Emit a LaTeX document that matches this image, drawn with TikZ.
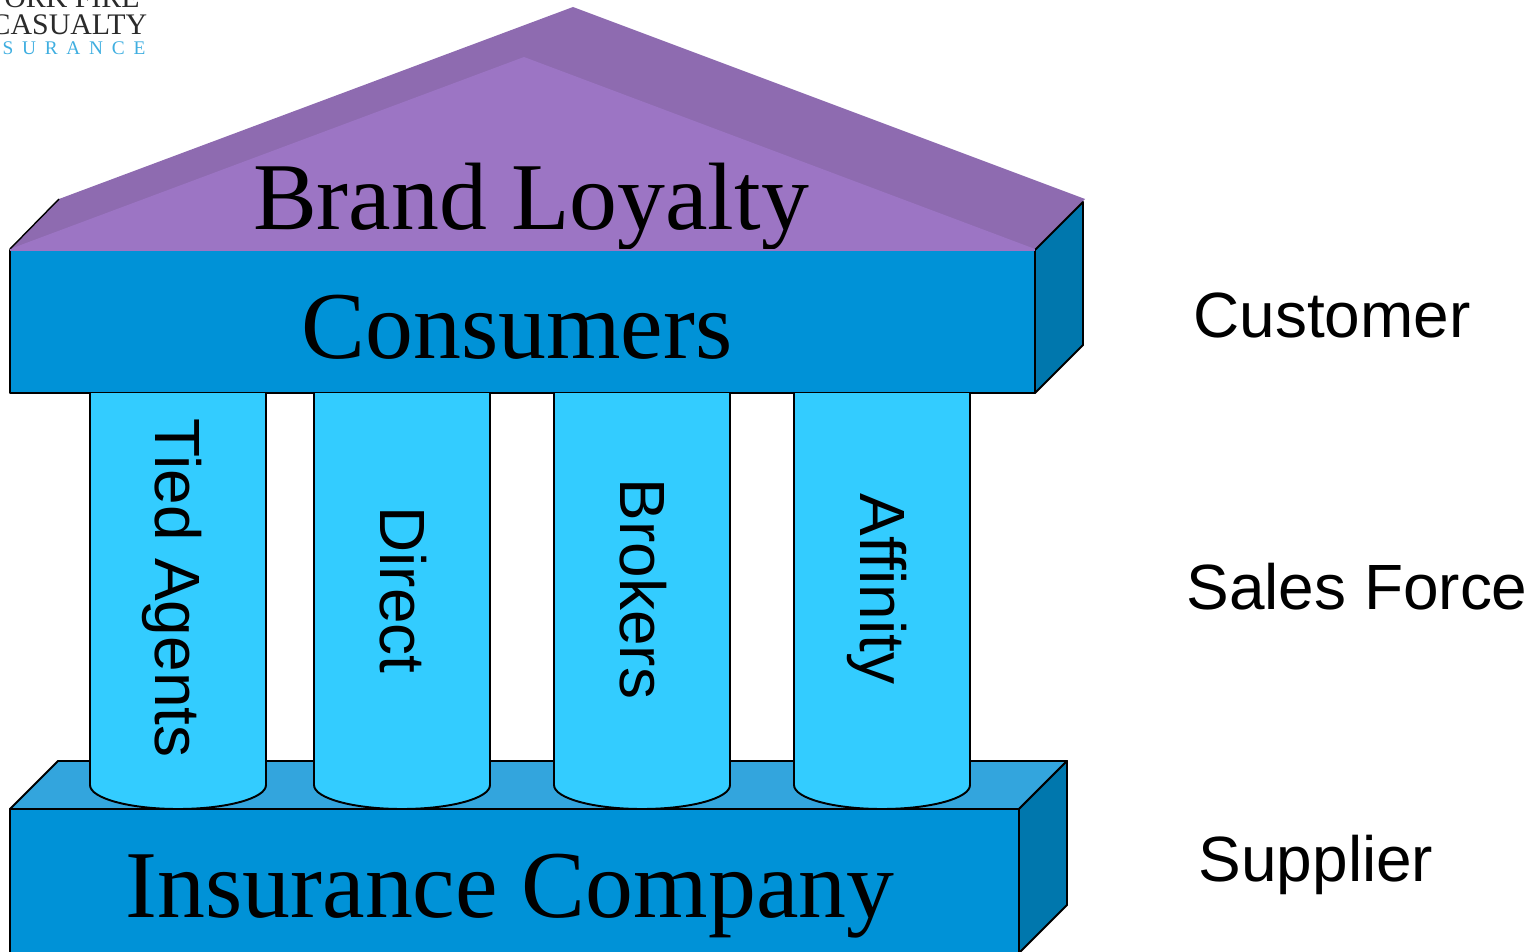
\documentclass[tikz,border=0pt]{standalone}
\usepackage{fontspec}
\setmainfont{Liberation Serif}
\setsansfont{Liberation Sans}
\definecolor{roofback}{HTML}{8E6BB0}
\definecolor{rooffront}{HTML}{9C75C4}
\definecolor{slabfront}{HTML}{0092D7}
\definecolor{slabside}{HTML}{0077AD}
\definecolor{slabtop}{HTML}{33A5DD}
\definecolor{pillarfill}{HTML}{33CCFF}
\definecolor{logogray}{HTML}{2B2B2B}
\definecolor{logoblue}{HTML}{3FAEE0}
\tikzset{
  slab/.style={draw=black, line width=1.1pt, line join=round},
  pillar/.style={slab, fill=pillarfill},
  bigtext/.style={font=\fontsize{54.5}{54.5}\selectfont, inner sep=0pt},
  pillartext/.style={font=\sffamily\fontsize{36.4}{36.4}\selectfont, rotate=-90, inner sep=0pt},
  sidetext/.style={font=\sffamily\fontsize{36.4}{36.4}\selectfont, inner sep=0pt}
}

\begin{document}
\begin{tikzpicture}[x=0.02cm, y=-0.02cm]
\useasboundingbox (0,0) rectangle (1533,952);
\clip (0,0) rectangle (1533,952);

% logo
\node[font=\fontsize{17}{17}\selectfont, text=logogray, inner sep=0pt] (logoa) at (72,-2) {ORK FIRE};
\node[font=\fontsize{17}{17}\selectfont, text=logogray, inner sep=0pt] (logob) at (69,25) {CASUALTY};
\node[font=\fontsize{11}{11}\selectfont, text=logoblue, inner sep=0pt] (logoc) at (74,48) {S\hspace{5pt}U\hspace{5pt}R\hspace{5pt}A\hspace{5pt}N\hspace{5pt}C\hspace{5pt}E};

% roof
\fill[roofback] (10,249) -- (59,199) -- (573,7) -- (1085,199) -- (1035,249) -- cycle;
\fill[rooffront] (10,249) -- (524,57) -- (1035,249) -- cycle;
\draw[black, line width=0.8pt] (10,249) -- (59,199);
\node[bigtext] (brand) at (531,207) {Brand Loyalty};

% consumers slab
\path[slab, fill=slabside] (1035,250) -- (1083,202) -- (1083,345) -- (1035,393) -- cycle;
\path[slab, fill=slabfront] (10,250) rectangle (1035,393);
\draw[rooffront, line width=1.1pt] (10,250) -- (1035,250);
\node[bigtext] (consumers) at (517,327) {Consumers};

% base slab
\path[slab, fill=slabtop] (10,809) -- (58,761) -- (1067,761) -- (1019,809) -- cycle;
\path[slab, fill=slabside] (1019,809) -- (1067,761) -- (1067,905) -- (1019,953) -- cycle;
\path[slab, fill=slabfront] (10,809) rectangle (1019,960);
\node[bigtext] (company) at (510,896) {Insurance Company};

% pillars
\path[pillar] (90,393) -- (90,785) arc[start angle=180, end angle=0, x radius=88, y radius=24] -- (266,393);
\path[pillar] (314,393) -- (314,785) arc[start angle=180, end angle=0, x radius=88, y radius=24] -- (490,393);
\path[pillar] (554,393) -- (554,785) arc[start angle=180, end angle=0, x radius=88, y radius=24] -- (730,393);
\path[pillar] (794,393) -- (794,785) arc[start angle=180, end angle=0, x radius=88, y radius=24] -- (970,393);
\node[pillartext] (tied) at (172,588) {Tied Agents};
\node[pillartext] (direct) at (403,590) {Direct};
\node[pillartext] (brokers) at (643,589) {Brokers};
\node[pillartext] (affinity) at (877,589) {Affinity};

% side labels
\node[sidetext] (customer) at (1332,315) {Customer};
\node[sidetext] (salesforce) at (1357,587) {Sales Force};
\node[sidetext] (supplier) at (1316,865) {Supplier};
\end{tikzpicture}
\end{document}
